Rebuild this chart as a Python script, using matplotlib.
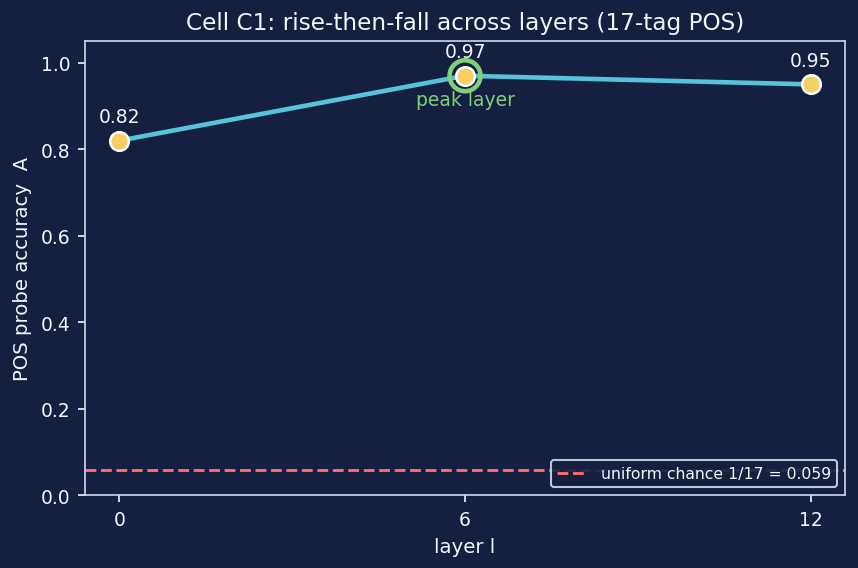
import matplotlib
matplotlib.use("Agg")
import matplotlib.pyplot as plt

# data
layers = [0, 6, 12]
accuracy = [0.82, 0.97, 0.95]
peak_layer = 6
peak_acc = 0.97
chance = 1 / 17

bg = "#152040"
fg = "#f2f5fa"

fig, ax = plt.subplots(figsize=(5.72, 3.793), dpi=150)
fig.patch.set_facecolor(bg)
ax.set_facecolor(bg)

ax.plot(layers, accuracy, color="#56c3db", linewidth=2.2, zorder=2)
ax.scatter(layers, accuracy, s=80, color="#f5cf62", edgecolors="white", linewidths=1.2, zorder=4)
ax.scatter([peak_layer], [peak_acc], s=220, facecolors="none", edgecolors="#7ed07a", linewidths=2.2, zorder=3)

for x, y in zip(layers, accuracy):
    ax.annotate(f"{y:.2f}", (x, y), textcoords="offset points", xytext=(0, 7),
                ha="center", va="bottom", color=fg, fontsize=9)
ax.annotate("peak layer", (peak_layer, peak_acc), textcoords="offset points", xytext=(0, -7),
            ha="center", va="top", color="#7ed07a", fontsize=9)

ax.axhline(chance, color="#ff6b6b", linestyle="--", linewidth=1.4,
           label=f"uniform chance 1/17 = {chance:.3f}")

ax.set_xlim(-0.6, 12.6)
ax.set_ylim(0, 1.05)
ax.set_xticks(layers)
ax.set_xlabel("layer l", color=fg, fontsize=9.5)
ax.set_ylabel("POS probe accuracy  A", color=fg, fontsize=9.5)
ax.set_title("Cell C1: rise-then-fall across layers (17-tag POS)", color=fg, fontsize=11.1)
ax.tick_params(colors=fg, labelsize=9)
for s in ax.spines.values():
    s.set_color("#d0d8ea")

leg = ax.legend(loc="lower right", fontsize=7.5, facecolor=bg, edgecolor="#d0d8ea", labelcolor=fg)
leg.get_frame().set_alpha(0.9)

fig.subplots_adjust(left=0.099, right=0.985, top=0.926, bottom=0.128)
fig.savefig("out.png", facecolor=bg)
